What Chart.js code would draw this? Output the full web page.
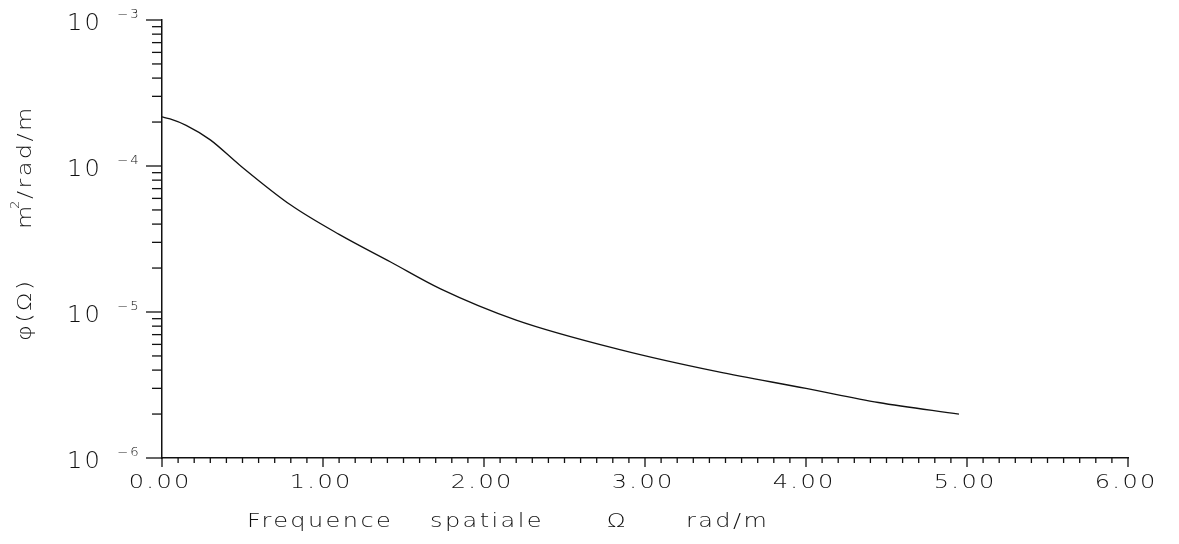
<!DOCTYPE html>
<html>
<head>
<meta charset="utf-8">
<script src="https://cdn.jsdelivr.net/npm/chart.js@4/dist/chart.umd.min.js"></script>
<style>
  html, body { margin: 0; padding: 0; background: #fff; }
  canvas { display: block; }
</style>
</head>
<body>
<canvas id="spectre" width="1179" height="544"></canvas>
<script>
// --- donnees (Omega en rad/m, phi en m2/rad/m) ---
const omega = [0.00, 0.05, 0.15, 0.30, 0.48, 0.80, 1.10, 1.42, 1.73, 2.20, 2.85, 3.45, 4.00, 4.45, 4.95];
const phi = [2.17e-4, 2.10e-4, 1.90e-4, 1.51e-4, 1.02e-4, 5.4e-5, 3.4e-5, 2.2e-5, 1.44e-5, 8.8e-6, 5.5e-6, 3.9e-6, 3.0e-6, 2.4e-6, 2.0e-6];

// --- graduations ---
const xTickValues = [0, 1, 2, 3, 4, 5, 6];
const xTickLabels = ["0.00", "1.00", "2.00", "3.00", "4.00", "5.00", "6.00"];
const yDecades = [-6, -5, -4, -3];
const yExponentLabels = ["\u22126", "\u22125", "\u22124", "\u22123"];

const FONT = '"DejaVu Sans", "Liberation Sans", sans-serif';
const INK = "#111";

// texte etire horizontalement, comme l'ecriture du traceur
function wideText(ctx, txt, x, y, align, sx, spacing) {
  ctx.letterSpacing = spacing + "px";
  const w = (ctx.measureText(txt).width - spacing) * sx;
  let x0 = x;
  if (align === "center") x0 = x - w / 2;
  ctx.save();
  ctx.textAlign = "left";
  ctx.translate(x0, y);
  ctx.scale(sx, 1);
  ctx.fillText(txt, 0, 0);
  ctx.restore();
  return w;
}

const axesPlotter = {
  id: "axesPlotter",
  afterDraw(chart) {
    const ctx = chart.ctx;
    const xs = chart.scales.x;
    const ys = chart.scales.y;
    const { left, bottom } = chart.chartArea;

    const seg = (x1, y1, x2, y2) => {
      ctx.beginPath();
      ctx.moveTo(x1, y1);
      ctx.lineTo(x2, y2);
      ctx.stroke();
    };

    ctx.save();
    ctx.strokeStyle = INK;
    ctx.fillStyle = INK;
    ctx.lineWidth = 1.3;
    ctx.textBaseline = "alphabetic";

    // axe Y : decades + sous-graduations 2..9
    yDecades.forEach((e, i) => {
      const base = Math.pow(10, e);
      seg(left - 16, ys.getPixelForValue(base), left, ys.getPixelForValue(base));
      if (i < yDecades.length - 1) {
        for (let m = 2; m <= 9; m++) {
          const py = ys.getPixelForValue(m * base);
          seg(left - 10, py, left, py);
        }
      }
    });

    // axe X : pas de 0.1, grands tirets aux entiers
    for (let k = 0; k <= 60; k++) {
      const px = xs.getPixelForValue(k / 10);
      seg(px, bottom, px, bottom + (k % 10 === 0 ? 9 : 5));
    }

    // etiquettes X
    ctx.font = "300 20px " + FONT;
    xTickValues.forEach((v, i) => {
      wideText(ctx, xTickLabels[i], xs.getPixelForValue(v) - 3, 488, "center", 1.2, 2);
    });

    // etiquettes Y : 10 avec exposant
    yDecades.forEach((e, i) => {
      const py = ys.getPixelForValue(Math.pow(10, e));
      ctx.font = "300 23px " + FONT;
      wideText(ctx, "10", 67, py + 10, "left", 1.05, 2);
      ctx.font = "300 12px " + FONT;
      wideText(ctx, yExponentLabels[i], 117, py - 2, "left", 1.1, 2);
    });

    // titre X
    ctx.font = "300 20px " + FONT;
    wideText(ctx, "Frequence", 247, 527, "left", 1.2, 2);
    wideText(ctx, "spatiale", 430, 527, "left", 1.2, 2);
    wideText(ctx, "\u03A9", 607, 527, "left", 1.2, 2);
    wideText(ctx, "rad/m", 686, 527, "left", 1.2, 2);

    // titre Y (vertical)
    ctx.translate(31, 341);
    ctx.rotate(-Math.PI / 2);
    ctx.font = "300 20px " + FONT;
    wideText(ctx, "\u03C6(\u03A9)", 0, 0, "left", 1.2, 2);
    wideText(ctx, "m", 112, 0, "left", 1.2, 2);
    ctx.font = "300 12px " + FONT;
    wideText(ctx, "2", 132, -12, "left", 1.1, 1);
    ctx.font = "300 20px " + FONT;
    wideText(ctx, "/rad/m", 142, 0, "left", 1.2, 2);

    ctx.restore();
  }
};

new Chart(document.getElementById("spectre"), {
  type: "line",
  data: {
    datasets: [{
      data: omega.map((o, i) => ({ x: o, y: phi[i] })),
      borderColor: INK,
      borderWidth: 1.3,
      pointRadius: 0,
      fill: false,
      cubicInterpolationMode: "monotone",
    }],
  },
  options: {
    responsive: false,
    animation: false,
    layout: { padding: { top: 20, right: 51, left: 0, bottom: 0 } },
    plugins: {
      legend: { display: false },
      tooltip: { enabled: false },
      title: { display: false },
    },
    scales: {
      x: {
        type: "linear",
        min: 0,
        max: 6,
        grid: { display: false },
        ticks: { display: false },
        border: { display: true, color: INK, width: 1.5 },
        afterFit: s => { s.height = 86; },
      },
      y: {
        type: "logarithmic",
        min: 1e-6,
        max: 1e-3,
        grid: { display: false },
        ticks: { display: false },
        border: { display: true, color: INK, width: 1.5 },
        afterFit: s => { s.width = 162; },
      },
    },
  },
  plugins: [axesPlotter],
});
</script>
</body>
</html>
